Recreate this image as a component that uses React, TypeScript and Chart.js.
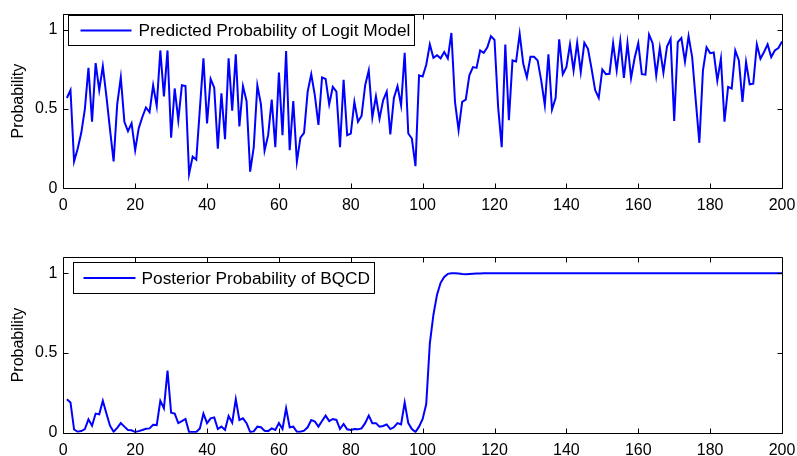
import React, { useEffect, useRef } from "react";
import { Chart, registerables } from "chart.js";

Chart.register(...registerables);

// ---------- data ----------
const sampleIndex: number[] = Array.from({ length: 200 }, (_, i) => i + 1);

const logitProbability: number[] = [
  0.57, 0.62, 0.17, 0.25, 0.35, 0.50, 0.76, 0.42, 0.79, 0.62,
  0.77, 0.58, 0.37, 0.17, 0.53, 0.70, 0.42, 0.36, 0.41, 0.24,
  0.38, 0.45, 0.51, 0.48, 0.65, 0.52, 0.87, 0.58, 0.87, 0.32,
  0.63, 0.43, 0.65, 0.645, 0.09, 0.20, 0.18, 0.50, 0.82, 0.41,
  0.69, 0.635, 0.25, 0.60, 0.31, 0.82, 0.49, 0.845, 0.39, 0.645,
  0.55, 0.105, 0.26, 0.65, 0.53, 0.237, 0.335, 0.56, 0.26, 0.73,
  0.335, 0.866, 0.24, 0.55, 0.168, 0.32, 0.35, 0.61, 0.72, 0.587,
  0.40, 0.70, 0.69, 0.53, 0.64, 0.61, 0.26, 0.685, 0.335, 0.345,
  0.545, 0.42, 0.457, 0.65, 0.744, 0.447, 0.58, 0.44, 0.555, 0.61,
  0.34, 0.57, 0.645, 0.524, 0.855, 0.346, 0.314, 0.14, 0.713, 0.706,
  0.78, 0.908, 0.824, 0.84, 0.82, 0.86, 0.82, 0.98, 0.545, 0.367,
  0.545, 0.56, 0.713, 0.765, 0.76, 0.87, 0.855, 0.89, 0.96, 0.937,
  0.514, 0.26, 0.908, 0.43, 0.807, 0.80, 0.975, 0.786, 0.70, 0.83,
  0.83, 0.807, 0.68, 0.524, 0.845, 0.497, 0.57, 0.94, 0.72, 0.765,
  0.908, 0.744, 0.918, 0.734, 0.918, 0.88, 0.755, 0.62, 0.57, 0.75,
  0.72, 0.723, 0.916, 0.744, 0.93, 0.696, 0.916, 0.696, 0.824, 0.916,
  0.72, 0.717, 0.97, 0.916, 0.713, 0.887, 0.73, 0.895, 0.943, 0.425,
  0.922, 0.948, 0.80, 0.96, 0.828, 0.555, 0.287, 0.744, 0.89, 0.853,
  0.857, 0.68, 0.818, 0.42, 0.64, 0.63, 0.87, 0.807, 0.545, 0.797,
  0.656, 0.66, 0.908, 0.818, 0.86, 0.908, 0.828, 0.87, 0.885, 0.927,
];

const bqcdProbability: number[] = [
  0.21, 0.19, 0.02, 0.006, 0.01, 0.023, 0.084, 0.044, 0.12, 0.115,
  0.20, 0.12, 0.044, 0.006, 0.03, 0.06, 0.038, 0.017, 0.015, 0.004,
  0.01, 0.017, 0.025, 0.027, 0.05, 0.048, 0.20, 0.153, 0.39, 0.126,
  0.12, 0.06, 0.073, 0.086, 0.004, 0.004, 0.004, 0.027, 0.12, 0.06,
  0.09, 0.096, 0.023, 0.038, 0.017, 0.105, 0.063, 0.21, 0.08, 0.09,
  0.06, 0.004, 0.008, 0.038, 0.034, 0.012, 0.01, 0.027, 0.017, 0.06,
  0.023, 0.153, 0.034, 0.038, 0.006, 0.006, 0.013, 0.034, 0.08, 0.07,
  0.038, 0.073, 0.107, 0.073, 0.086, 0.08, 0.023, 0.055, 0.021, 0.017,
  0.023, 0.021, 0.027, 0.06, 0.107, 0.06, 0.06, 0.038, 0.042, 0.052,
  0.023, 0.034, 0.06, 0.052, 0.19, 0.06, 0.023, 0.004, 0.038, 0.086,
  0.18, 0.56, 0.74, 0.866, 0.94, 0.977, 0.996, 1.0, 1.0, 0.998,
  0.995, 0.993, 0.995, 0.997, 0.998, 0.999, 1.0, 1.0, 1.0, 1.0,
  1.0, 1.0, 1.0, 1.0, 1.0, 1.0, 1.0, 1.0, 1.0, 1.0,
  1.0, 1.0, 1.0, 1.0, 1.0, 1.0, 1.0, 1.0, 1.0, 1.0,
  1.0, 1.0, 1.0, 1.0, 1.0, 1.0, 1.0, 1.0, 1.0, 1.0,
  1.0, 1.0, 1.0, 1.0, 1.0, 1.0, 1.0, 1.0, 1.0, 1.0,
  1.0, 1.0, 1.0, 1.0, 1.0, 1.0, 1.0, 1.0, 1.0, 1.0,
  1.0, 1.0, 1.0, 1.0, 1.0, 1.0, 1.0, 1.0, 1.0, 1.0,
  1.0, 1.0, 1.0, 1.0, 1.0, 1.0, 1.0, 1.0, 1.0, 1.0,
  1.0, 1.0, 1.0, 1.0, 1.0, 1.0, 1.0, 1.0, 1.0, 1.0,
];

const xTickValues: number[] = [0, 20, 40, 60, 80, 100, 120, 140, 160, 180, 200];
const yTickValues: number[] = [0, 0.5, 1];
const yTickLabels: string[] = ["0", "0.5", "1"];
const seriesLabels: string[] = [
  "Predicted Probability of Logit Model",
  "Posterior Probability of BQCD",
];
const axisTitle = "Probability";

// ---------- styling ----------
const FONT = '"Liberation Sans", Arial, Helvetica, sans-serif';
const LINE_COLOR = "#0000ff";

type LegendSpec = {
  dx: number; dy: number; height: number;
  lineStart: number; lineEnd: number; textStart: number; padRight: number;
};

const framePlugin = {
  id: "matlabFrame",
  afterDraw(chart: any, _args: any, opts: any) {
    const { ctx, chartArea: ca } = chart;
    const xs = chart.scales.x;
    const ys = chart.scales.y;
    const L = Math.round(ca.left) + 0.5;
    const R = Math.round(ca.right) + 0.5;
    const T = Math.round(ca.top) + 0.5;
    const B = Math.round(ca.bottom) + 0.5;
    const tl = 5;
    ctx.save();
    ctx.strokeStyle = "#000";
    ctx.lineWidth = 1;
    ctx.beginPath();
    ctx.rect(L, T, R - L, B - T);
    for (const v of xTickValues) {
      const px = Math.round(xs.getPixelForValue(v)) + 0.5;
      ctx.moveTo(px, B); ctx.lineTo(px, B - tl);
      ctx.moveTo(px, T); ctx.lineTo(px, T + tl);
    }
    for (const v of yTickValues) {
      const py = Math.round(ys.getPixelForValue(v)) + 0.5;
      ctx.moveTo(L, py); ctx.lineTo(L + tl, py);
      ctx.moveTo(R, py); ctx.lineTo(R - tl, py);
    }
    ctx.stroke();

    // legend
    const spec: LegendSpec = opts.legend;
    const ds = chart.data.datasets[0];
    ctx.font = `17.3px ${FONT}`;
    const tw = ctx.measureText(ds.label).width;
    const bx = Math.round(ca.left + spec.dx) + 0.5;
    const by = Math.round(ca.top + spec.dy) + 0.5;
    const bw = Math.round(spec.textStart + tw + spec.padRight);
    ctx.fillStyle = "#fff";
    ctx.fillRect(bx, by, bw, spec.height);
    ctx.strokeStyle = "#000";
    ctx.lineWidth = 1;
    ctx.strokeRect(bx, by, bw, spec.height);
    const cy = by + spec.height / 2;
    ctx.strokeStyle = ds.borderColor;
    ctx.lineWidth = ds.borderWidth;
    ctx.beginPath();
    ctx.moveTo(bx + spec.lineStart, cy);
    ctx.lineTo(bx + spec.lineEnd, cy);
    ctx.stroke();
    ctx.fillStyle = "#000";
    ctx.textAlign = "left";
    ctx.textBaseline = "middle";
    ctx.fillText(ds.label, bx + spec.textStart, cy + 1);
    ctx.restore();
  },
};

function makeConfig(
  label: string,
  values: number[],
  layout: { top: number; right: number },
  yWidth: number,
  xHeight: number,
  legend: LegendSpec
): any {
  return {
    type: "line",
    data: {
      datasets: [
        {
          label,
          data: sampleIndex.map((x, i) => ({ x, y: values[i] })),
          borderColor: LINE_COLOR,
          backgroundColor: LINE_COLOR,
          borderWidth: 2,
          pointRadius: 0,
          tension: 0,
          fill: false,
        },
      ],
    },
    options: {
      responsive: false,
      animation: false,
      events: [],
      layout: { padding: { left: 0, right: layout.right, top: layout.top, bottom: 0 } },
      plugins: {
        legend: { display: false },
        tooltip: { enabled: false },
        matlabFrame: { legend },
      },
      scales: {
        x: {
          type: "linear",
          min: 0,
          max: 200,
          grid: { display: false, drawTicks: false },
          border: { display: false },
          afterBuildTicks: (s: any) => { s.ticks = xTickValues.map((v) => ({ value: v })); },
          afterFit: (s: any) => {
            s.height = xHeight;
            s.paddingLeft = 0;
            s.paddingRight = 0;
          },
          ticks: {
            color: "#000",
            padding: 8,
            maxRotation: 0,
            autoSkip: false,
            font: { family: FONT, size: 16 },
            callback: (v: number) => String(v),
          },
        },
        y: {
          type: "linear",
          min: 0,
          max: 1.1,
          grid: { display: false, drawTicks: false },
          border: { display: false },
          afterBuildTicks: (s: any) => { s.ticks = yTickValues.map((v) => ({ value: v })); },
          afterFit: (s: any) => {
            s.width = yWidth;
            s.paddingTop = 0;
            s.paddingBottom = 0;
          },
          ticks: {
            color: "#000",
            padding: 6,
            autoSkip: false,
            font: { family: FONT, size: 16 },
            callback: (v: number) => yTickLabels[yTickValues.indexOf(v)] ?? String(v),
          },
          title: {
            display: true,
            text: axisTitle,
            color: "#000",
            font: { family: FONT, size: 16 },
            padding: { top: 9, bottom: 0 },
          },
        },
      },
    },
    plugins: [framePlugin],
  };
}

function Panel(props: { top: number; config: any }) {
  const ref = useRef<HTMLCanvasElement | null>(null);
  useEffect(() => {
    if (!ref.current) return;
    const chart = new Chart(ref.current, props.config);
    return () => chart.destroy();
  }, []);
  return (
    <canvas
      ref={ref}
      width={797}
      height={228}
      style={{ position: "absolute", left: 0, top: props.top, width: 797, height: 228 }}
    />
  );
}

export default function App() {
  const topConfig = makeConfig(
    seriesLabels[0],
    logitProbability,
    { top: 14, right: 15 },
    63.3,
    228 - 188.3,
    { dx: 4.7, dy: 1, height: 30, lineStart: 12, lineEnd: 63, textStart: 70, padRight: 4 }
  );
  const bottomConfig = makeConfig(
    seriesLabels[1],
    bqcdProbability,
    { top: 257.3 - 228, right: 15 },
    63.3,
    228 - (432.7 - 228),
    { dx: 9.7, dy: 4.7, height: 31, lineStart: 10, lineEnd: 62, textStart: 68, padRight: 4 }
  );
  return (
    <div style={{ position: "fixed", left: 0, top: 0, width: 797, height: 456, background: "#fff" }}>
      <Panel top={0} config={topConfig} />
      <Panel top={228} config={bottomConfig} />
    </div>
  );
}
